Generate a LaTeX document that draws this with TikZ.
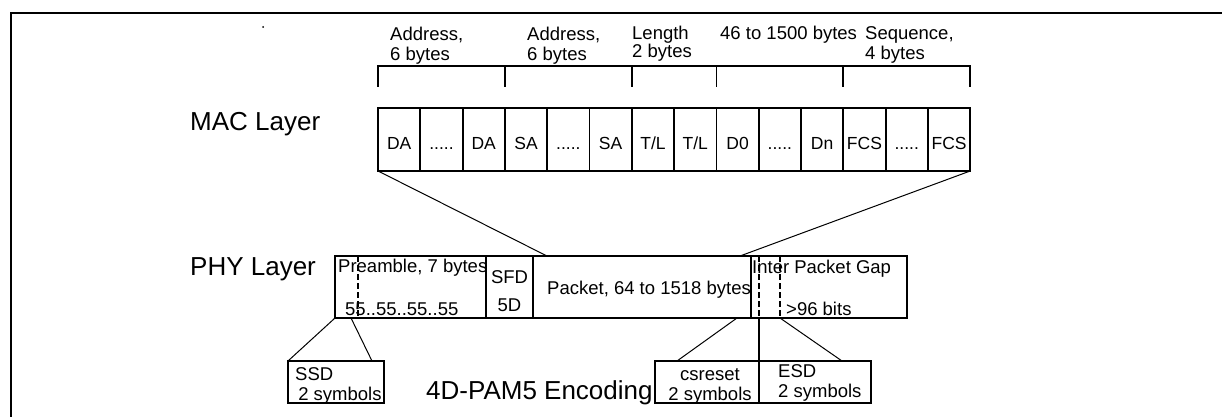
\documentclass[tikz,border=0pt]{standalone}
\usepackage{fontspec}
\setmainfont{Liberation Sans}
\usetikzlibrary{positioning}
\newcommand\lblfont{\fontsize{18.5}{20}\selectfont}
\newcommand\cellfont{\fontsize{17.5}{20}\selectfont}
\newcommand\layerfont{\fontsize{26}{30}\selectfont}
\newcommand\fivedots{.....}
\tikzset{
cell/.style={draw, line width=1.8pt, minimum width=42.3pt, minimum height=63pt,
  inner sep=0pt, outer sep=0pt, text height=19pt, text depth=0pt, font=\cellfont},
phybox/.style={draw, line width=1.8pt, minimum height=62pt, inner sep=0pt,
  outer sep=0pt, anchor=north west},
symbox/.style={draw, line width=1.8pt, minimum height=42pt, inner sep=0pt,
  outer sep=0pt, anchor=north west},
lbl/.style={inner sep=0pt, font=\lblfont, align=left, anchor=north west},
txt/.style={inner sep=0pt, font=\lblfont, anchor=base west},
layer/.style={inner sep=0pt, font=\layerfont, anchor=base west},
link/.style={line width=1pt},
gap/.style={line width=1.8pt, dash pattern=on 6pt off 3pt},
}

\begin{document}
\begin{tikzpicture}[x=1pt, y=-1pt]
\useasboundingbox (0,0) rectangle (1222,417);
\draw[line width=2.6pt] (11,417) -- (11,13) -- (1222,13);
\fill (263,27) circle (1pt);

% MAC frame
\foreach \t [count=\i] in {DA,\fivedots,DA,SA,\fivedots,SA,T/L,T/L,D0,\fivedots,Dn,FCS,\fivedots,FCS}
  \node[cell] (c\i) at ({378+(\i-0.5)*42.3},139.5) {\t};

\draw[line width=1.8pt] ([yshift=21pt]c1.north west) |- ([yshift=42pt]c14.north east)
  -- ([yshift=21pt]c14.north east);
\foreach \j in {3,6,8,11}
  \draw[line width=1.8pt] ([yshift=21pt]c\j.north east) -- ([yshift=42pt]c\j.north east);

\node[lbl] (da) at (390,27) {Address,\\6 bytes};
\node[lbl] (sa) at (527,27) {Address,\\6 bytes};
\node[lbl] (tl) at (632,26) {Length\\[-2pt]2 bytes};
\node[lbl] (data) at (720,26) {46 to 1500 bytes};
\node[lbl] (fcs) at (865,26) {Sequence,\\4 bytes};

\node[layer] (mac) at (190,130) {MAC Layer};
\node[layer] (phy) at (190,275) {PHY Layer};
\node[layer] (enc) at (426,399) {4D-PAM5 Encoding};

% PHY frame
\node[phybox, minimum width=151pt] (pre) at (335,256) {};
\node[phybox, minimum width=47pt, right=0pt of pre] (sfd) {};
\node[phybox, minimum width=218pt, right=0pt of sfd] (pkt) {};
\node[phybox, minimum width=156pt, right=0pt of pkt] (ipg) {};

\node[txt] (pretxt) at (338,272) {Preamble, 7 bytes};
\node[txt] (prebits) at (345,315) {55..55..55..55};
\node[lbl, align=center, anchor=north] (sfdtxt) at (sfd.north |- 0,270) {SFD\\[8pt]5D};
\node[txt] (pkttxt) at (547,294) {Packet, 64 to 1518 bytes};
\node[txt] (ipgtxt) at (752,273) {Inter Packet Gap};
\node[txt] (ipgbits) at (786,315) {>96 bits};

\draw[gap] ([xshift=23pt]pre.north west) -- ([xshift=23pt]pre.south west);
\draw[gap] ([xshift=8pt]ipg.north west) -- ([xshift=8pt]ipg.south west);
\draw[gap] ([xshift=29pt]ipg.north west) -- ([xshift=29pt]ipg.south west);

% symbols
\node[symbox, minimum width=96pt] (ssd) at (288,361) {};
\node[symbox, minimum width=104pt] (csr) at (655,361) {};
\node[symbox, minimum width=112pt, right=0pt of csr] (esd) {};

\node[lbl] (ssdtxt) at (295,367) {SSD\\\,2 symbols};
\node[lbl, align=center, anchor=north] (csrtxt) at (710,368) {csreset\\2 symbols};
\node[lbl] (esdtxt) at (778,364) {ESD\\2 symbols};

\draw[link] (c1.south west) -- ([xshift=14pt]pkt.north west);
\draw[link] (c14.south east) -- ([xshift=-11pt]pkt.north east);
\draw[link] (pre.south west) -- (ssd.north west);
\draw[link] ([xshift=16pt]pre.south west) -- ([xshift=-12pt]ssd.north east);
\draw[link] ([xshift=-14pt]pkt.south east) -- ([xshift=22pt]csr.north west);
\draw[line width=1.8pt] ([xshift=8pt]ipg.south west) -- (csr.north east);
\draw[link] ([xshift=29pt]ipg.south west) -- ([xshift=-29pt]esd.north east);
\end{tikzpicture}
\end{document}
